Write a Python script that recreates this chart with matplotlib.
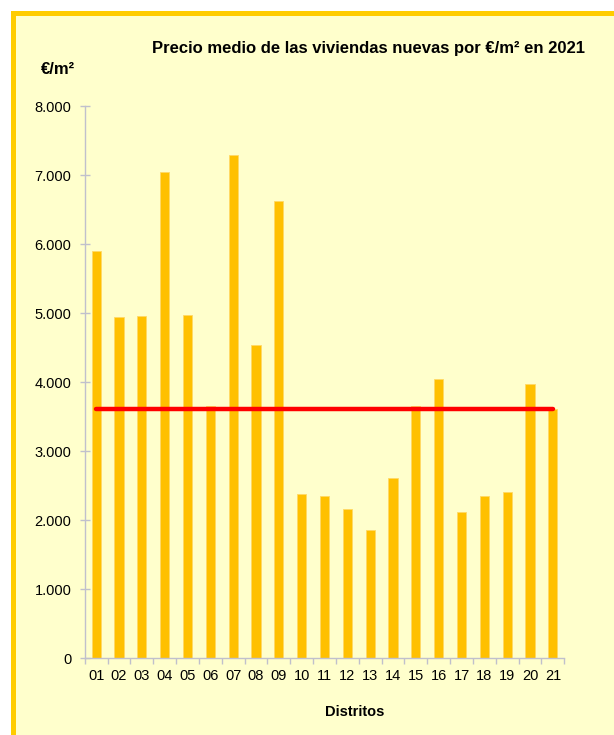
import matplotlib
matplotlib.use('Agg')
import matplotlib.pyplot as plt
from matplotlib.patches import Rectangle
from matplotlib.ticker import FuncFormatter, MultipleLocator
import numpy as np

# data
distritos = ['01', '02', '03', '04', '05', '06', '07', '08', '09', '10', '11',
             '12', '13', '14', '15', '16', '17', '18', '19', '20', '21']
precio = [5905, 4945, 4955, 7045, 4980, 3660, 7300, 4535, 6625, 2375, 2350,
          2170, 1865, 2615, 3660, 4050, 2115, 2355, 2415, 3970, 3610]
media_ciudad = 3610

titulo = 'Precio medio de las viviendas nuevas por €/m² en 2021'
unidad = '€/m²'
eje_x = 'Distritos'

BAR = '#FFC000'
FONDO = '#FFFFCC'
MARCO = '#FFCC00'
EJE = '#C0C0CC'

plt.rcParams['font.family'] = ['Liberation Sans', 'DejaVu Sans']

W, H = 614, 735
fig = plt.figure(figsize=(W / 100, H / 100), dpi=100, facecolor='white')

# yellow frame, cut off at right and bottom
marco = Rectangle((12.5 / W, -0.1), 1.2, 1 - 13.5 / H + 0.1,
                  transform=fig.transFigure, facecolor=FONDO,
                  edgecolor=MARCO, linewidth=3.6, zorder=-10)
fig.patches.append(marco)

ax = fig.add_axes([84.7 / W, 1 - 658.3 / H,
                   (564.3 - 84.7) / W, (658.3 - 106.3) / H])
ax.set_facecolor('none')

x = np.arange(len(distritos))
ax.bar(x, precio, width=0.4, color=BAR, edgecolor='#FFD966',
       linewidth=0.6, zorder=2)
ax.plot(x, [media_ciudad] * len(x), color='#FF0000', linewidth=3.2,
        solid_capstyle='round', zorder=3)

ax.set_xlim(-0.5, len(x) - 0.5)
ax.set_ylim(0, 8000)

for s in ['top', 'right']:
    ax.spines[s].set_visible(False)
for s in ['left', 'bottom']:
    ax.spines[s].set_color(EJE)
    ax.spines[s].set_linewidth(1.0)

ax.yaxis.set_major_locator(MultipleLocator(1000))
ax.yaxis.set_major_formatter(
    FuncFormatter(lambda v, p: f'{int(v):,}'.replace(',', '.')))
ax.tick_params(axis='y', direction='inout', length=7, width=1.0,
               color=EJE, labelsize=10.5, pad=6)

ax.set_xticks(x)
ax.set_xticklabels(distritos)
ax.set_xticks(np.arange(-0.5, len(x)), minor=True)
ax.tick_params(axis='x', which='major', length=0, labelsize=10.5, pad=8)
ax.tick_params(axis='x', which='minor', direction='out', length=4,
               width=1.0, color=EJE)

fig.text(369 / W, 1 - 48 / H, titulo, ha='center', va='center',
         fontsize=12, fontweight='bold')
fig.text(57.7 / W, 1 - 69 / H, unidad, ha='center', va='center',
         fontsize=12, fontweight='bold')
fig.text(355 / W, 1 - 712.5 / H, eje_x, ha='center', va='center',
         fontsize=10.5, fontweight='bold')

fig.savefig('out.png', dpi=100, facecolor='white')
